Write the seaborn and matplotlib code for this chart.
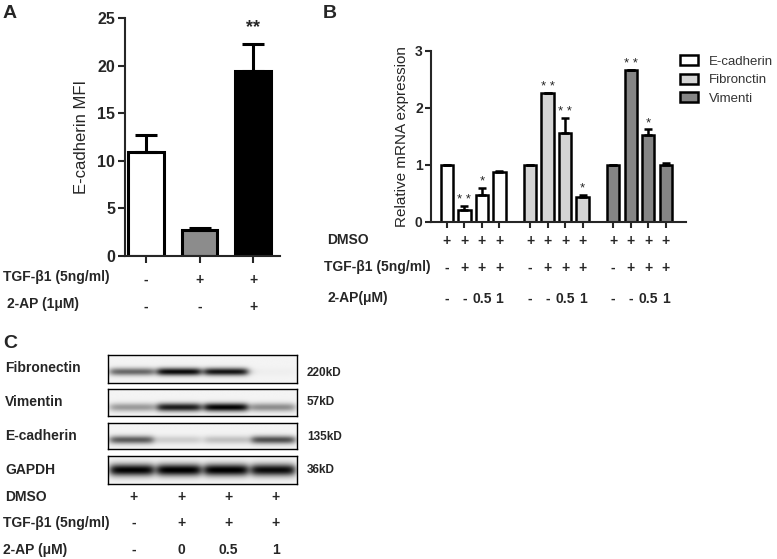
import numpy as np
import pandas as pd
import seaborn as sns
import matplotlib
matplotlib.use("Agg")
import matplotlib.pyplot as plt
import matplotlib.transforms as mtrans
from matplotlib.patches import Patch

# ---------------- data ----------------
a_conditions = ["Control", "TGF-β1", "TGF-β1 + 2-AP"]
a_mfi = [10.9, 2.7, 19.4]
a_sem = [1.8, 0.25, 2.9]
a_tgf_signs = ["-", "+", "+"]
a_ap_signs = ["-", "-", "+"]
a_stars = ["", "", "**"]

b_genes = ["E-cadherin", "Fibronctin", "Vimenti"]
b_ecad = [1.0, 0.21, 0.48, 0.88]
b_ecad_err = [0.0, 0.07, 0.12, 0.02]
b_fib = [1.0, 2.26, 1.57, 0.43]
b_fib_err = [0.0, 0.01, 0.25, 0.05]
b_vim = [1.0, 2.66, 1.53, 1.0]
b_vim_err = [0.0, 0.0, 0.10, 0.03]
b_ecad_stars = ["", "**", "*", ""]
b_fib_stars = ["", "**", "**", "*"]
b_vim_stars = ["", "**", "*", ""]
b_dmso = ["+", "+", "+", "+"]
b_tgf = ["-", "+", "+", "+"]
b_ap = ["-", "-", "0.5", "1"]

c_proteins = ["Fibronectin", "Vimentin", "E-cadherin", "GAPDH"]
c_weights = ["220kD", "57kD", "135kD", "36kD"]
c_fib = [0.55, 0.92, 0.88, 0.02]
c_vim = [0.35, 0.85, 0.95, 0.40]
c_ecad = [0.60, 0.15, 0.20, 0.65]
c_gapdh = [0.95, 0.97, 0.97, 0.92]
c_dmso = ["+", "+", "+", "+"]
c_tgf = ["-", "+", "+", "+"]
c_ap = ["-", "0", "0.5", "1"]

# ---------------- style ----------------
sns.set_theme(style="ticks")
plt.rcParams["font.family"] = ["Liberation Sans", "DejaVu Sans"]
plt.rcParams["axes.linewidth"] = 1.5

W, H = 777, 559
fig = plt.figure(figsize=(W / 100, H / 100), dpi=100)


def rect(l, t, r, b):
    return [l / W, 1 - b / H, (r - l) / W, (b - t) / H]


def fy(y):
    return 1 - y / H


def ftext(x, y, s, **kw):
    kw.setdefault("fontweight", "bold")
    kw.setdefault("fontsize", 10)
    kw.setdefault("va", "center")
    fig.text(x / W, fy(y), s, **kw)


# ---------------- panel A ----------------
axA = fig.add_axes(rect(125, 18.3, 280, 255.7))
dfA = pd.DataFrame({"cond": a_conditions, "mfi": a_mfi})
sns.barplot(data=dfA, x="cond", y="mfi", hue="cond",
            palette=["white", "#8c8c8c", "black"], width=0.66,
            edgecolor="black", linewidth=2.2, legend=False, ax=axA)
axA.errorbar(range(3), a_mfi, yerr=[np.zeros(3), a_sem], fmt="none",
             ecolor="black", elinewidth=2.2, capsize=8, capthick=2.2, zorder=3)
axA.set_ylim(0, 25)
axA.set_xlim(-0.39, 2.5)
axA.set_yticks([0, 5, 10, 15, 20, 25])
axA.set_xticks(range(3))
axA.set_xticklabels([])
axA.set_xlabel("")
axA.set_ylabel("E-cadherin MFI", fontsize=12, labelpad=6)
axA.tick_params(axis="y", labelsize=11.5, width=1.5, length=5, pad=2)
axA.tick_params(axis="x", width=1.5, length=5)
for t in axA.get_yticklabels():
    t.set_fontweight("bold")
sns.despine(ax=axA)
for i, s in enumerate(a_stars):
    if s:
        axA.annotate(s, xy=(i, a_mfi[i] + a_sem[i]), xytext=(0, 6),
                     textcoords="offset points", ha="center", va="bottom",
                     fontsize=13, fontweight="bold")
trA = mtrans.blended_transform_factory(axA.transData, fig.transFigure)
ftext(3, 277, "TGF-β1 (5ng/ml)")
ftext(7, 304, "2-AP (1μM)")
for i in range(3):
    axA.text(i, fy(280), a_tgf_signs[i], transform=trA, ha="center",
             va="center", fontsize=10, fontweight="bold")
    axA.text(i, fy(307), a_ap_signs[i], transform=trA, ha="center",
             va="center", fontsize=10, fontweight="bold")

# ---------------- panel B ----------------
axB = fig.add_axes(rect(431, 51, 686, 222))
colorsB = {"E-cadherin": "white", "Fibronctin": "#d4d4d4", "Vimenti": "#858585"}
vals_all = [b_ecad, b_fib, b_vim]
errs_all = [b_ecad_err, b_fib_err, b_vim_err]
stars_all = [b_ecad_stars, b_fib_stars, b_vim_stars]
rows = []
for g, gene in enumerate(b_genes):
    for j in range(4):
        rows.append({"pos": g * 4.75 + j, "val": vals_all[g][j],
                     "err": errs_all[g][j], "star": stars_all[g][j],
                     "gene": gene})
dfB = pd.DataFrame(rows)
sns.barplot(data=dfB, x="pos", y="val", hue="gene", native_scale=True,
            dodge=False, palette=colorsB, width=0.7, edgecolor="black",
            linewidth=1.8, legend=False, ax=axB)
axB.errorbar(dfB["pos"], dfB["val"], yerr=[np.zeros(len(dfB)), dfB["err"]],
             fmt="none", ecolor="black", elinewidth=1.8, capsize=3,
             capthick=1.8, zorder=3)
for _, r in dfB.iterrows():
    if r["star"]:
        axB.annotate(" ".join(r["star"]), xy=(r["pos"], r["val"] + r["err"]),
                     xytext=(0, 0), textcoords="offset points", ha="center",
                     va="bottom", fontsize=9.5)
axB.set_ylim(0, 3)
axB.set_xlim(-0.91, 13.66)
axB.set_yticks([0, 1, 2, 3])
axB.set_xticks(dfB["pos"])
axB.set_xticklabels([])
axB.set_xlabel("")
axB.set_ylabel("Relative mRNA expression", fontsize=11, labelpad=4)
axB.tick_params(axis="y", labelsize=10, width=1.5, length=4, pad=2)
axB.tick_params(axis="x", width=1.5, length=4)
for t in axB.get_yticklabels():
    t.set_fontweight("bold")
sns.despine(ax=axB)
handles = [Patch(facecolor=colorsB[g], edgecolor="black", linewidth=1.8)
           for g in b_genes]
leg = axB.legend(handles, b_genes, loc="upper left",
                 bbox_to_anchor=(680 / W, fy(55)), bbox_transform=fig.transFigure,
                 frameon=False, fontsize=9.5, handlelength=1.4,
                 handleheight=0.8, handletextpad=0.8, labelspacing=0.45,
                 borderpad=0, borderaxespad=0)
for t in leg.get_texts():
    t.set_color("#333333")
trB = mtrans.blended_transform_factory(axB.transData, fig.transFigure)
ftext(327, 240, "DMSO")
ftext(324, 267, "TGF-β1 (5ng/ml)")
ftext(328, 298, "2-AP(μM)")
for g in range(3):
    for j in range(4):
        p = g * 4.75 + j
        axB.text(p, fy(241), b_dmso[j], transform=trB, ha="center",
                 va="center", fontsize=10, fontweight="bold")
        axB.text(p, fy(268), b_tgf[j], transform=trB, ha="center",
                 va="center", fontsize=10, fontweight="bold")
        axB.text(p, fy(299), b_ap[j], transform=trB, ha="center",
                 va="center", fontsize=10, fontweight="bold")

# ---------------- panel C ----------------
blot_rects = [(355, 383), (389, 416), (423, 449), (456, 484)]
band_vals = [c_fib, c_vim, c_ecad, c_gapdh]
band_center = [0.6, 0.68, 0.65, 0.5]
band_sigma = [0.14, 0.16, 0.16, 0.22]
label_y = [368, 402, 436, 470]
weight_y = [373, 402, 437, 470]
nx, ny = 400, 60
xs = np.linspace(0, 4, nx)
ys = np.linspace(0, 1, ny)
blot_axes = []
for k, (t, b) in enumerate(blot_rects):
    ax = fig.add_axes(rect(108, t, 297, b))
    img = np.full((ny, nx), 0.045)
    for i, inten in enumerate(band_vals[k]):
        hx = 1 / (1 + np.exp((np.abs(xs - (i + 0.5)) - 0.46) / 0.05))
        vy = np.exp(-((ys - band_center[k]) / band_sigma[k]) ** 2)
        img += inten * np.outer(vy, hx)
    ax.imshow(np.clip(img, 0, 1), cmap="gray_r", vmin=0, vmax=1,
              extent=[0, 4, 1, 0], aspect="auto", interpolation="bilinear")
    ax.set_xticks([])
    ax.set_yticks([])
    for sp in ax.spines.values():
        sp.set_visible(True)
        sp.set_linewidth(1.0)
        sp.set_color("black")
    ftext(5, label_y[k], c_proteins[k])
    ftext(307, weight_y[k], c_weights[k], fontsize=8.5)
    blot_axes.append(ax)

trC = mtrans.blended_transform_factory(blot_axes[0].transData, fig.transFigure)
ftext(5, 497, "DMSO")
ftext(3, 523, "TGF-β1 (5ng/ml)")
ftext(3, 550, "2-AP (μM)")
for i in range(4):
    for yy, lab in [(497, c_dmso[i]), (523, c_tgf[i]), (550, c_ap[i])]:
        blot_axes[0].text(i + 0.55, fy(yy), lab, transform=trC, ha="center",
                          va="center", fontsize=10, fontweight="bold")

# panel letters
ftext(3, 13, "A", fontsize=14)
ftext(323, 13, "B", fontsize=14)
ftext(3, 343, "C", fontsize=14)

fig.savefig("out.png", dpi=100)
